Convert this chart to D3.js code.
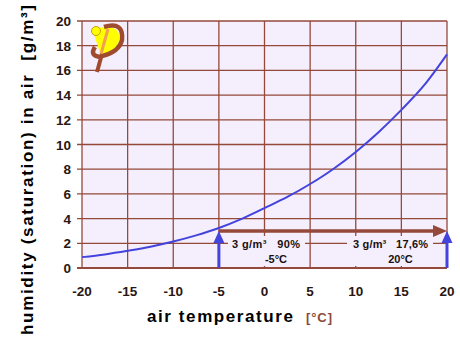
<!DOCTYPE html>
<html><head><meta charset="utf-8">
<script src="https://cdn.jsdelivr.net/npm/d3@7"></script>
<style>body{margin:0;background:#fff}svg{display:block}text{font-family:"Liberation Sans",Arial,sans-serif}</style>
</head><body>
<svg id="c" width="460" height="353"></svg>
<script>
const temps = [-20,-17.5,-15,-12.5,-10,-7.5,-5,-2.5,0,2.5,5,7.5,10,12.5,15,17.5,20];
const humidity = [0.88,1.1,1.39,1.72,2.14,2.64,3.24,3.98,4.85,5.75,6.8,8.0,9.4,11.0,12.8,14.8,17.3];
const xTicks = [-20,-15,-10,-5,0,5,10,15,20];
const yTicks = [0,2,4,6,8,10,12,14,16,18,20];
const arrowTemps = [-5,20];
const arrowValue = 3;
const labels1 = ["3 g/m³   90%","-5°C"];
const labels2 = ["3 g/m³   17,6%","20°C"];

const svg = d3.select("#c");
const x = d3.scaleLinear().domain([-20,20]).range([82,447]);
const y = d3.scaleLinear().domain([0,20]).range([268,21]);
const grid = "#94493a", blue = "#4343dd", bg = "#f5eefc";

svg.append("rect").attr("x",x(-20)).attr("y",y(20)).attr("width",x(20)-x(-20)).attr("height",y(0)-y(20)).attr("fill",bg);

// grid
svg.append("g").selectAll("line").data(yTicks.filter(d=>d>0)).join("line")
  .attr("x1",77).attr("x2",x(20)).attr("y1",d=>y(d)).attr("y2",d=>y(d))
  .attr("stroke",grid).attr("stroke-width",1.3);
svg.append("g").selectAll("line").data(xTicks).join("line")
  .attr("x1",d=>x(d)).attr("x2",d=>x(d)).attr("y1",y(20)).attr("y2",y(0))
  .attr("stroke",grid).attr("stroke-width",1.3);

// label boxes covering grid
svg.append("rect").attr("x",228).attr("y",236).attr("width",77).attr("height",30).attr("fill",bg);
svg.append("rect").attr("x",347).attr("y",236).attr("width",86).attr("height",30).attr("fill",bg);

// bottom axis
svg.append("line").attr("x1",77).attr("x2",x(20)).attr("y1",y(0)).attr("y2",y(0)).attr("stroke",grid).attr("stroke-width",2);

// tick labels
svg.append("g").selectAll("text").data(yTicks).join("text")
  .attr("x",71).attr("y",d=>y(d)+5).attr("text-anchor","end")
  .attr("font-size",13.5).attr("font-weight","bold").attr("fill","#2a1612").text(d=>d);
svg.append("g").selectAll("text").data(xTicks).join("text")
  .attr("x",d=>x(d)).attr("y",296).attr("text-anchor","middle")
  .attr("font-size",13.5).attr("font-weight","bold").attr("fill","#2a1612").text(d=>d);

// curve
svg.append("path").datum(temps.map((t,i)=>[t,humidity[i]]))
  .attr("d",d3.line().x(d=>x(d[0])).y(d=>y(d[1])).curve(d3.curveMonotoneX))
  .attr("fill","none").attr("stroke",blue).attr("stroke-width",2);

// brown arrow
const ay = y(arrowValue);
svg.append("line").attr("x1",x(arrowTemps[0])).attr("x2",x(arrowTemps[1])-12).attr("y1",ay).attr("y2",ay)
  .attr("stroke",grid).attr("stroke-width",3.5);
svg.append("path").attr("d",`M${x(arrowTemps[1])-14},${ay-6}L${x(arrowTemps[1])},${ay}L${x(arrowTemps[1])-14},${ay+6}Z`).attr("fill",grid);

// blue arrows
arrowTemps.forEach(t=>{
  const cx = x(t);
  svg.append("line").attr("x1",cx).attr("x2",cx).attr("y1",y(0)).attr("y2",ay+8).attr("stroke",blue).attr("stroke-width",3);
  svg.append("path").attr("d",`M${cx-5.5},${ay+12}L${cx},${ay}L${cx+5.5},${ay+12}Z`).attr("fill",blue);
});

// labels
const lab = (tx,ty,s,anchor,len)=>{
  const t = svg.append("text").attr("x",tx).attr("y",ty).attr("text-anchor",anchor).attr("font-size",11).attr("font-weight","bold").attr("fill","#1a1010").attr("xml:space","preserve").text(s);
  if(len) t.attr("textLength",len).attr("lengthAdjust","spacing");
};
lab(232,247.5,labels1[0],"start",68);
lab(276,263,labels1[1],"middle");
lab(353,247.5,labels2[0],"start",75);
lab(400.5,263,labels2[1],"middle");

// axis titles
svg.append("text").attr("x",147).attr("y",322).attr("font-size",17).attr("font-weight","bold").attr("fill","#000")
  .attr("textLength",146).attr("lengthAdjust","spacing").text("air temperature");
svg.append("text").attr("x",306).attr("y",322).attr("font-size",13).attr("font-weight","bold").attr("fill","#8b4a3a")
  .attr("textLength",26).attr("lengthAdjust","spacing").text("[°C]");
svg.append("text").attr("transform","translate(33,170) rotate(-90)").attr("text-anchor","middle")
  .attr("font-size",17).attr("font-weight","bold").attr("fill","#000").attr("xml:space","preserve")
  .attr("textLength",330).attr("lengthAdjust","spacing")
  .text("humidity (saturation) in air  [g/m³]");

// logo
const g = svg.append("g");
g.append("path").attr("d","M92,28 L110,27 Q123,30 118,44 Q113,52 101,56 Z").attr("fill","#ffff00");
g.append("path").attr("d","M104,27 Q124,21 122,40 Q119,52 102,56").attr("fill","none").attr("stroke","#a04a30").attr("stroke-width",4.5);
g.append("path").attr("d","M108,29 L101,54").attr("stroke","#f0a050").attr("stroke-width",3);
g.append("path").attr("d","M102,54 L97,72").attr("stroke","#a04a30").attr("stroke-width",4);
g.append("path").attr("d","M95,47 Q89,56 101,57").attr("fill","none").attr("stroke","#a04a30").attr("stroke-width",4.5);
g.append("circle").attr("cx",96).attr("cy",31).attr("r",4.5).attr("fill","#ffff00").attr("stroke","#c8a000").attr("stroke-width",1);
</script>
</body></html>
